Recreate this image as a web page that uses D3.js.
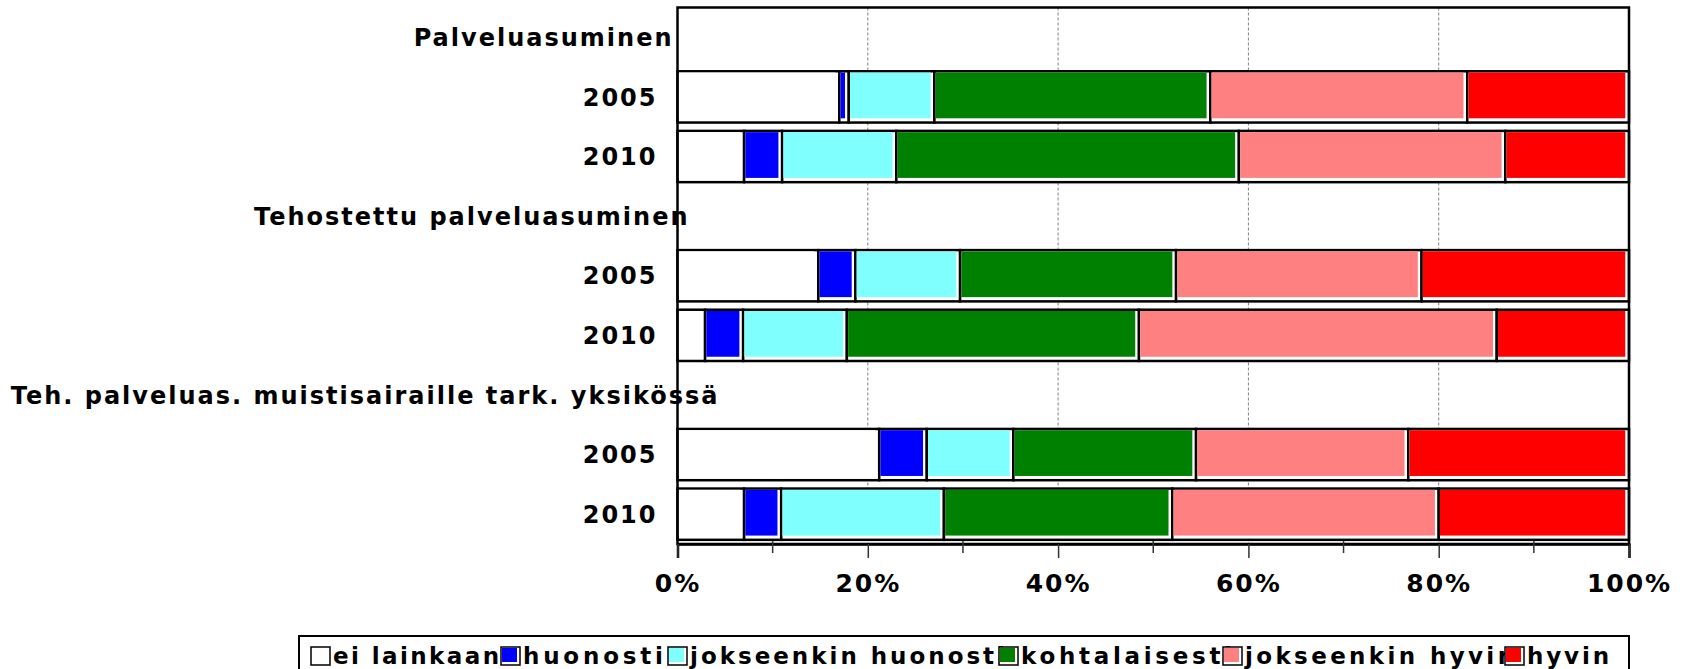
<!DOCTYPE html>
<html>
<head>
<meta charset="utf-8">
<script src="https://cdn.jsdelivr.net/npm/d3@7"></script>
<style>
  body { margin: 0; background: #fff; }
  text { font-family: "DejaVu Sans", Verdana, sans-serif; font-weight: bold; fill: #000; }
</style>
</head>
<body>
<div id="chart"></div>
<script>
var width = 1689,
    height = 669;

// rows top to bottom: group headers have no bar
var rowLabels = ["Palveluasuminen", "2005", "2010",
                 "Tehostettu palveluasuminen", "2005", "2010",
                 "Teh. palveluas. muistisairaille tark. yksikössä", "2005", "2010"];
var isHeader = [true, false, false, true, false, false, true, false, false];

var seriesNames = ["ei lainkaan", "huonosti", "jokseenkin huonosti",
                   "kohtalaisesti", "jokseenkin hyvin", "hyvin"];
var seriesColors = ["#ffffff", "#0000ff", "#80ffff", "#008000", "#ff8080", "#ff0000"];

// percentages, one value per row (0 on header rows)
var eiLainkaan         = [0, 17, 7,  0, 14.8, 2.9,  0, 21.2, 7];
var huonosti           = [0, 1,  4,  0, 3.9,  4,    0, 5,    3.9];
var jokseenkinHuonosti = [0, 9,  12, 0, 11,   10.9, 0, 9.1,  17.1];
var kohtalaisesti      = [0, 29, 36, 0, 22.7, 30.7, 0, 19.2, 24];
var jokseenkinHyvin    = [0, 27, 28, 0, 25.8, 37.6, 0, 22.3, 28];
var hyvin              = [0, 17, 13, 0, 21.8, 13.9, 0, 23.2, 20];

var xTicks = [0, 0.2, 0.4, 0.6, 0.8, 1];
var xMinorTicks = [0.1, 0.3, 0.5, 0.7, 0.9];

// layout (not data)
var plot = {left: 677.5, right: 1629, top: 7.5, bottom: 544};
var headerLabelShift = [-4, 12, 42];   // where each group title ends, relative to axis
var legendX = [311, 501, 668, 999, 1223, 1505];
var legendTextLen = [166, 140, 315, 211, 269, 82];

var allSeries = [eiLainkaan, huonosti, jokseenkinHuonosti, kohtalaisesti, jokseenkinHyvin, hyvin];
var table = rowLabels.map(function(label, i) {
  var row = {row: i};
  seriesNames.forEach(function(s, j) { row[s] = allSeries[j][i]; });
  return row;
});

var svg = d3.select("#chart").append("svg")
    .attr("width", width)
    .attr("height", height);

var x = d3.scaleLinear().domain([0, 1]).range([plot.left, plot.right]);
var y = d3.scaleBand().domain(d3.range(rowLabels.length))
    .range([plot.top, plot.bottom])
    .paddingInner(0.14)
    .paddingOuter(0.07);

// grid
svg.selectAll("line.grid")
    .data(xTicks.slice(1, -1))
  .enter().append("line")
    .attr("class", "grid")
    .attr("x1", function(d) { return x(d); })
    .attr("x2", function(d) { return x(d); })
    .attr("y1", plot.top)
    .attr("y2", plot.bottom)
    .attr("stroke", "#808080")
    .attr("stroke-width", 1)
    .attr("stroke-dasharray", "3,2");

var stacked = d3.stack()
    .keys(seriesNames)
    .offset(d3.stackOffsetExpand)(table.filter(function(d) { return !isHeader[d.row]; }));

var layer = svg.selectAll("g.layer")
    .data(stacked)
  .enter().append("g")
    .attr("class", "layer");

var seg = layer.selectAll("g.seg")
    .data(function(d) { return d.map(function(p) { return {p: p, key: d.key, index: d.index}; }); })
  .enter().append("g")
    .attr("class", "seg");

seg.append("rect")
    .attr("x", function(d) { return x(d.p[0]); })
    .attr("y", function(d) { return y(d.p.data.row); })
    .attr("width", function(d) { return x(d.p[1]) - x(d.p[0]); })
    .attr("height", y.bandwidth())
    .attr("fill", "#fff")
    .attr("stroke", "#000")
    .attr("stroke-width", 2.5);

seg.append("rect")
    .attr("x", function(d) { return x(d.p[0]) + 1.25; })
    .attr("y", function(d) { return y(d.p.data.row) + 1.25; })
    .attr("width", function(d) { return Math.max(0, x(d.p[1]) - x(d.p[0]) - 5); })
    .attr("height", y.bandwidth() - 5.5)
    .attr("fill", function(d) { return seriesColors[d.index]; });

// frame
svg.append("rect")
    .attr("x", plot.left)
    .attr("y", plot.top)
    .attr("width", plot.right - plot.left)
    .attr("height", plot.bottom - plot.top)
    .attr("fill", "none")
    .attr("stroke", "#000")
    .attr("stroke-width", 2.5);

// x axis
var xAxis = svg.append("g")
    .attr("transform", "translate(0," + plot.bottom + ")")
    .call(d3.axisBottom(x).tickValues(xTicks).tickFormat(d3.format(".0%"))
      .tickSize(14).tickPadding(16));
xAxis.select(".domain").attr("stroke-width", 2.5);
xAxis.selectAll(".tick line").attr("stroke", "#333").attr("stroke-width", 1.5);
xAxis.selectAll("text")
    .attr("font-size", 25)
    .attr("letter-spacing", 2)
    .attr("font-family", "DejaVu Sans, sans-serif")
    .attr("font-weight", "bold")
    .attr("fill", "#000");

svg.append("g").selectAll("line")
    .data(xMinorTicks)
  .enter().append("line")
    .attr("x1", function(d) { return x(d); })
    .attr("x2", function(d) { return x(d); })
    .attr("y1", plot.bottom - 3)
    .attr("y2", plot.bottom + 9)
    .attr("stroke", "#333")
    .attr("stroke-width", 1.5);

// row labels
var headerCount = 0;
svg.selectAll("text.rowlabel")
    .data(rowLabels)
  .enter().append("text")
    .attr("class", "rowlabel")
    .attr("x", function(d, i) {
      if (isHeader[i]) return plot.left + headerLabelShift[headerCount++];
      return plot.left - 20;
    })
    .attr("y", function(d, i) { return y(i) + y.bandwidth() / 2; })
    .attr("dy", "0.36em")
    .attr("text-anchor", "end")
    .attr("font-size", 24)
    .attr("letter-spacing", 2)
    .text(function(d) { return d; });

// legend
var legendTop = 636;
svg.append("rect")
    .attr("x", 299)
    .attr("y", legendTop)
    .attr("width", plot.right - 299)
    .attr("height", 50)
    .attr("fill", "#fff")
    .attr("stroke", "#000")
    .attr("stroke-width", 2);

var item = svg.selectAll("g.legend")
    .data(seriesNames)
  .enter().append("g")
    .attr("class", "legend")
    .attr("transform", function(d, i) { return "translate(" + legendX[i] + "," + (legendTop + 20) + ")"; });

// texts first so the next swatch covers any overflow, like the original
item.append("text")
    .attr("x", 22)
    .attr("dy", "0.36em")
    .attr("font-size", 23)
    .attr("textLength", function(d, i) { return legendTextLen[i]; })
    .attr("lengthAdjust", "spacing")
    .text(function(d) { return d; });

item.append("rect")
    .attr("x", 0)
    .attr("y", -9)
    .attr("width", 19)
    .attr("height", 18)
    .attr("fill", "#fff")
    .attr("stroke", "#000")
    .attr("stroke-width", 1.5);

item.append("rect")
    .attr("x", 1)
    .attr("y", -8)
    .attr("width", 15)
    .attr("height", 14)
    .attr("fill", function(d, i) { return seriesColors[i]; });
</script>
</body>
</html>
